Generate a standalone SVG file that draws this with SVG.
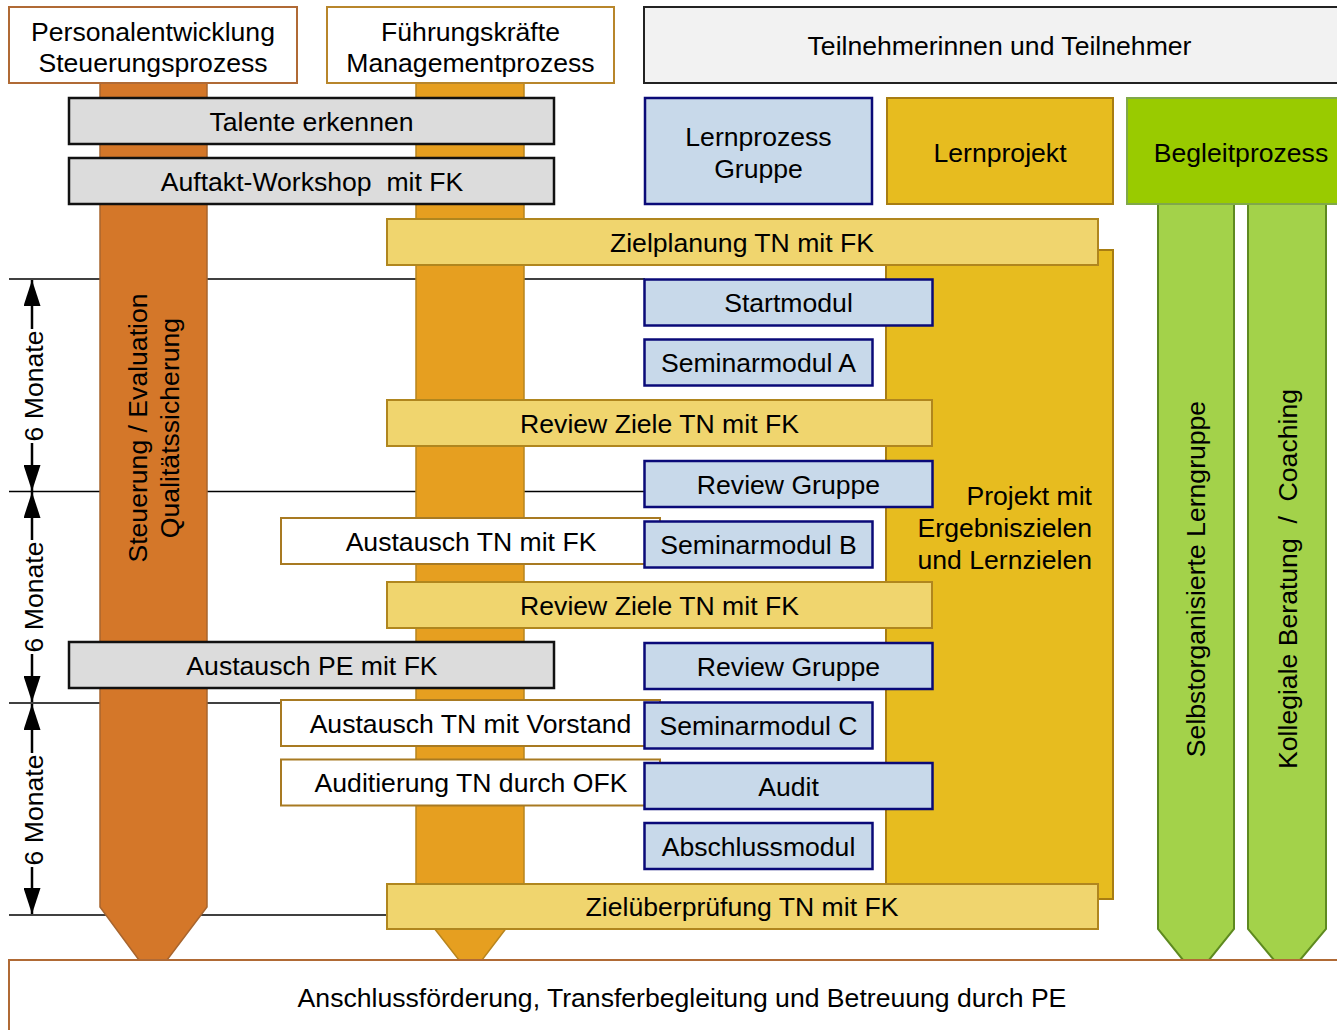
<svg xmlns="http://www.w3.org/2000/svg" width="1337" height="1030" viewBox="0 0 1337 1030">
<style>
.t{font-family:"Liberation Sans",Arial,sans-serif;font-size:26.6px;fill:#000;text-anchor:middle}
.te{text-anchor:end}
.hl{stroke:#000;stroke-width:1.5;fill:none}
.dim{stroke:#000;stroke-width:2.5;fill:none;marker-end:url(#ah)}
.gray{fill:#DCDCDC;stroke:#111;stroke-width:2.5}
.blue{fill:#C8D9EA;stroke:#0A0A78;stroke-width:2.5}
.ylw{fill:#F0D56E;stroke:#B0861E;stroke-width:2}
.wht{fill:#fff;stroke:#A87A22;stroke-width:2}
.col1{fill:#D47729;stroke:#A8652E;stroke-width:1.5}
.col2{fill:#E69F20;stroke:#B8851E;stroke-width:1.5}
.grn{fill:#A3D24A;stroke:#5E8A20;stroke-width:2}
.proj{fill:#E7BC1F;stroke:#A87D12;stroke-width:2}
</style>
<defs>
<marker id="ah" viewBox="0 0 26 17" refX="26" refY="8.5" markerWidth="26" markerHeight="17" markerUnits="userSpaceOnUse" orient="auto">
<path d="M0,0 L26,8.5 L0,17 z" fill="#000"/>
</marker>
</defs>
<rect width="1337" height="1030" fill="#fff"/>

<g id="connectors">
<line class="hl" x1="9" y1="279" x2="645" y2="279"/>
<line class="hl" x1="9" y1="491.5" x2="645" y2="491.5"/>
<line class="hl" x1="9" y1="703" x2="281" y2="703"/>
<line class="hl" x1="9" y1="915" x2="387" y2="915"/>
<line class="dim" x1="32" y1="329" x2="32" y2="280"/>
<line class="dim" x1="32" y1="443" x2="32" y2="491"/>
<line class="dim" x1="32" y1="540" x2="32" y2="492"/>
<line class="dim" x1="32" y1="654" x2="32" y2="702"/>
<line class="dim" x1="32" y1="753" x2="32" y2="704"/>
<line class="dim" x1="32" y1="867" x2="32" y2="914"/>
<text class="t" transform="translate(42.5,386) rotate(-90)">6 Monate</text>
<text class="t" transform="translate(42.5,597) rotate(-90)">6 Monate</text>
<text class="t" transform="translate(42.5,810) rotate(-90)">6 Monate</text>
</g>

<g id="col-pe">
<polygon class="col1" points="100,83 207,83 207,907 167,960 139,960 100,907"/>
<text class="t" transform="translate(147,428) rotate(-90)">Steuerung / Evaluation</text>
<text class="t" transform="translate(179,428) rotate(-90)">Qualitätssicherung</text>
</g>
<g id="col-fk">
<polygon class="col2" points="416,83 524,83 524,905 482,960 459,960 416,905"/>
</g>
<g id="col-lerngruppe">
<polygon class="grn" points="1158,204 1234,204 1234,929 1209,960 1183,960 1158,929"/>
<text class="t" transform="translate(1205,579) rotate(-90)">Selbstorganisierte Lerngruppe</text>
</g>
<g id="col-coaching">
<polygon class="grn" points="1248,204 1326,204 1326,929 1300,960 1274,960 1248,929"/>
<text class="t" transform="translate(1297,579) rotate(-90)" xml:space="preserve" style="white-space:pre">Kollegiale Beratung  /  Coaching</text>
</g>
<g id="projekt-body">
<rect class="proj" x="886" y="250" width="227" height="649"/>
<text class="t te" x="1092" y="505">Projekt mit</text>
<text class="t te" x="1092" y="537">Ergebniszielen</text>
<text class="t te" x="1092" y="569">und Lernzielen</text>
</g>

<g id="hdr-pe">
<rect x="9" y="7" width="288" height="76" fill="#fff" stroke="#B06A35" stroke-width="2"/>
<text class="t" x="153" y="41">Personalentwicklung</text>
<text class="t" x="153" y="72">Steuerungsprozess</text>
</g>
<g id="hdr-fk">
<rect x="327" y="7" width="287" height="76" fill="#fff" stroke="#B8862B" stroke-width="2"/>
<text class="t" x="470.5" y="41">Führungskräfte</text>
<text class="t" x="470.5" y="72">Managementprozess</text>
</g>
<g id="hdr-tn">
<rect x="644" y="7" width="711" height="76" fill="#F2F2F2" stroke="#222" stroke-width="2"/>
<text class="t" x="999.5" y="55">Teilnehmerinnen und Teilnehmer</text>
</g>
<g id="hdr-lernprozess">
<rect class="blue" x="645" y="98" width="227" height="106"/>
<text class="t" x="758.5" y="146">Lernprozess</text>
<text class="t" x="758.5" y="178">Gruppe</text>
</g>
<g id="hdr-lernprojekt">
<rect class="proj" x="887" y="98" width="226" height="106"/>
<text class="t" x="1000" y="162">Lernprojekt</text>
</g>
<g id="hdr-begleit">
<rect x="1127" y="98" width="228" height="106" fill="#99CB00" stroke="#80A84A" stroke-width="2"/>
<text class="t" x="1241" y="162">Begleitprozess</text>
</g>

<g id="talente">
<rect class="gray" x="69" y="98" width="485" height="46"/>
<text class="t" x="311.5" y="130.5">Talente erkennen</text>
</g>
<g id="auftakt">
<rect class="gray" x="69" y="158" width="485" height="46"/>
<text class="t" x="312" y="190.5" xml:space="preserve" style="white-space:pre">Auftakt-Workshop  mit FK</text>
</g>
<g id="zielplanung">
<rect class="ylw" x="387" y="219" width="711" height="46"/>
<text class="t" x="742" y="251.5">Zielplanung TN mit FK</text>
</g>
<g id="startmodul">
<rect class="blue" x="644.5" y="279.5" width="288" height="46"/>
<text class="t" x="788.5" y="312">Startmodul</text>
</g>
<g id="seminar-a">
<rect class="blue" x="644.5" y="339.5" width="228" height="46"/>
<text class="t" x="758.5" y="372">Seminarmodul A</text>
</g>
<g id="review-ziele-1">
<rect class="ylw" x="387" y="400" width="545" height="46"/>
<text class="t" x="659.5" y="432.5">Review Ziele TN mit FK</text>
</g>
<g id="review-gruppe-1">
<rect class="blue" x="644.5" y="461" width="288" height="46"/>
<text class="t" x="788.5" y="493.5">Review Gruppe</text>
</g>
<g id="austausch-tn-fk">
<rect class="wht" x="281" y="518" width="379" height="46"/>
<text class="t" x="471" y="550.5">Austausch TN mit FK</text>
</g>
<g id="seminar-b">
<rect class="blue" x="644.5" y="521.5" width="228" height="46"/>
<text class="t" x="758.5" y="554">Seminarmodul B</text>
</g>
<g id="review-ziele-2">
<rect class="ylw" x="387" y="582" width="545" height="46"/>
<text class="t" x="659.5" y="614.5">Review Ziele TN mit FK</text>
</g>
<g id="austausch-pe-fk">
<rect class="gray" x="69" y="642" width="485" height="46"/>
<text class="t" x="312" y="674.5">Austausch PE mit FK</text>
</g>
<g id="review-gruppe-2">
<rect class="blue" x="644.5" y="643" width="288" height="46"/>
<text class="t" x="788.5" y="675.5">Review Gruppe</text>
</g>
<g id="austausch-tn-vorstand">
<rect class="wht" x="281" y="700" width="379" height="46"/>
<text class="t" x="470.5" y="732.5">Austausch TN mit Vorstand</text>
</g>
<g id="seminar-c">
<rect class="blue" x="644.5" y="702.5" width="228" height="46"/>
<text class="t" x="758.5" y="735">Seminarmodul C</text>
</g>
<g id="auditierung">
<rect class="wht" x="281" y="759.5" width="379" height="46"/>
<text class="t" x="471" y="792">Auditierung TN durch OFK</text>
</g>
<g id="audit">
<rect class="blue" x="644.5" y="763" width="288" height="46"/>
<text class="t" x="788.5" y="795.5">Audit</text>
</g>
<g id="abschluss">
<rect class="blue" x="644.5" y="823" width="228" height="46"/>
<text class="t" x="758.5" y="855.5">Abschlussmodul</text>
</g>
<g id="zielueberpruefung">
<rect class="ylw" x="387" y="884" width="711" height="45"/>
<text class="t" x="742" y="916">Zielüberprüfung TN mit FK</text>
</g>

<g id="anschluss">
<rect x="9" y="960" width="1346" height="90" fill="#fff" stroke="#B06A35" stroke-width="2"/>
<text class="t" x="682" y="1007">Anschlussförderung, Transferbegleitung und Betreuung durch PE</text>
</g>
</svg>
